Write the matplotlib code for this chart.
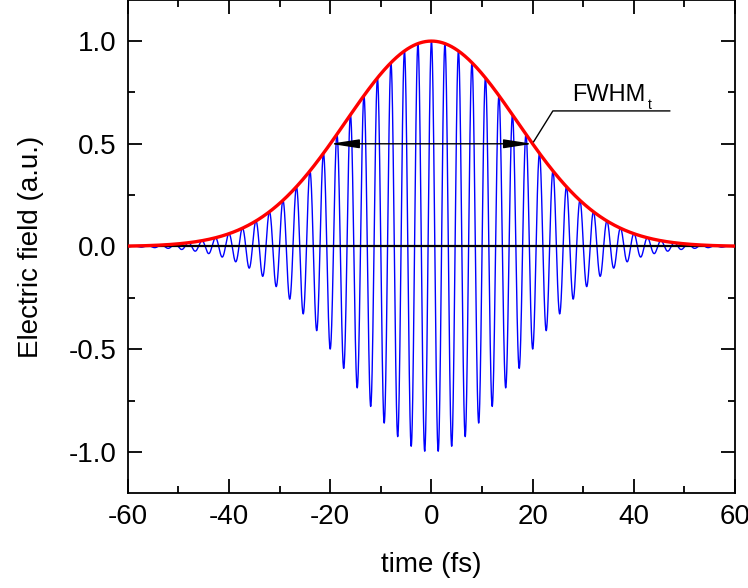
import numpy as np
import matplotlib
matplotlib.use("Agg")
from matplotlib import pyplot as plt
from matplotlib.ticker import MultipleLocator

# pulse parameters
fwhm = 40.0          # fs, full width at half maximum of the field envelope
period = 2.67        # fs, carrier period (800 nm)
t_min, t_max = -60, 60
x_ticks = [-60, -40, -20, 0, 20, 40, 60]
y_ticks = [-1.0, -0.5, 0.0, 0.5, 1.0]

t = np.linspace(t_min, t_max, 6001)
envelope = np.exp(-4 * np.log(2) * t**2 / fwhm**2)
field = envelope * np.cos(2 * np.pi * t / period)

plt.rcParams['font.family'] = ['Liberation Sans', 'DejaVu Sans']
plt.rcParams['axes.unicode_minus'] = False

fig = plt.figure(figsize=(7.48, 5.88), dpi=100)
ax = fig.add_axes([0.171, 0.1616, 0.8116, 0.8384])

ax.plot(t, field, color='blue', lw=1.0, zorder=2)
ax.axhline(0, color='black', lw=1.6, zorder=3)
ax.plot(t, envelope, color='red', lw=2.4, zorder=4)

# FWHM arrow
ax.annotate('', xy=(-fwhm / 2, 0.5), xytext=(fwhm / 2, 0.5),
            arrowprops=dict(arrowstyle='<|-|>,head_length=1.1,head_width=0.17',
                            color='black', lw=1.0, shrinkA=0, shrinkB=0,
                            mutation_scale=16),
            zorder=5)
ax.plot([20.2, 24.0, 47.1], [0.51, 0.66, 0.66], color='black', lw=1.0, zorder=5)
fw = ax.text(27.8, 0.71, 'FWHM', fontsize=17, ha='left', va='baseline')
ax.annotate('t', xy=(1, 0), xycoords=fw, xytext=(1.5, -2.5), textcoords='offset points',
            fontsize=10, ha='left', va='baseline')

ax.set_xlim(t_min, t_max)
ax.set_ylim(-1.2, 1.2)
ax.set_xticks(x_ticks)
ax.set_yticks(y_ticks)
ax.set_yticklabels([f'{v:.1f}' for v in y_ticks])
ax.xaxis.set_minor_locator(MultipleLocator(10))
ax.yaxis.set_minor_locator(MultipleLocator(0.25))
ax.tick_params(which='both', direction='in', top=True, right=True, width=1.3)
ax.tick_params(which='major', length=10, labelsize=20, pad=8)
ax.tick_params(which='minor', length=5)
for s in ax.spines.values():
    s.set_linewidth(1.3)

ax.set_xlabel('time (fs)', fontsize=20, labelpad=16)
ax.set_ylabel('Electric field (a.u.)', fontsize=20, labelpad=18)

fig.savefig('out.png', dpi=100)
